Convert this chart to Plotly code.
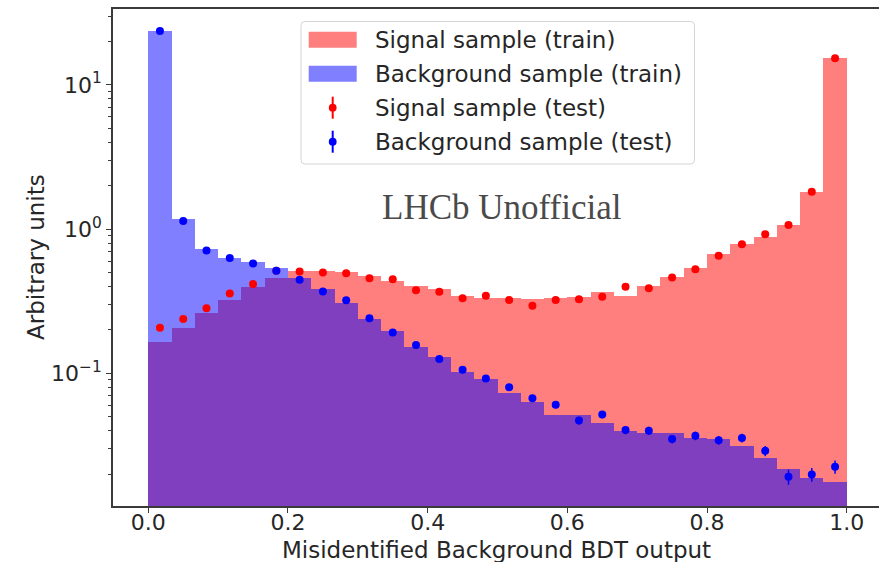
import numpy as np
import plotly.graph_objects as go

# 30 equal bins of the BDT response between 0 and 1
bin_edges = np.linspace(0.0, 1.0, 31)
bin_centers = 0.5 * (bin_edges[:-1] + bin_edges[1:])
bin_width = bin_edges[1] - bin_edges[0]

# Normalised training histograms
signal_train = [0.164, 0.206, 0.264, 0.324, 0.398, 0.455, 0.514, 0.509, 0.501, 0.475,
                0.434, 0.404, 0.384, 0.345, 0.334, 0.331, 0.327, 0.332, 0.336, 0.364,
                0.345, 0.404, 0.467, 0.534, 0.668, 0.787, 0.889, 1.07, 1.81, 15.3]
background_train = [23.5, 1.17, 0.727, 0.636, 0.588, 0.542, 0.455, 0.384, 0.310, 0.240,
                    0.197, 0.153, 0.129, 0.103, 0.0912, 0.0725, 0.0635, 0.0516, 0.0516, 0.0456,
                    0.0399, 0.0385, 0.0385, 0.0359, 0.0350, 0.0314, 0.0257, 0.0217, 0.0187, 0.0176]

# Normalised test-sample points
signal_test = [0.207, 0.238, 0.283, 0.358, 0.416, 0.514, 0.509, 0.501, 0.495, 0.457,
               0.450, 0.377, 0.368, 0.332, 0.345, 0.323, 0.294, 0.323, 0.327, 0.340,
               0.398, 0.390, 0.463, 0.528, 0.653, 0.787, 0.923, 1.07, 1.82, 15.3]
background_test = [23.7, 1.14, 0.71, 0.63, 0.578, 0.514, 0.445, 0.370, 0.322, 0.241,
                   0.192, 0.157, 0.126, 0.106, 0.092, 0.080, 0.0673, 0.0605, 0.0471, 0.0518,
                   0.0404, 0.040, 0.035, 0.0369, 0.0344, 0.0356, 0.029, 0.0192, 0.0199, 0.0225]

# Statistical uncertainties of the test points (absolute)
signal_test_err = [0.006, 0.006, 0.007, 0.008, 0.009, 0.010, 0.010, 0.010, 0.010, 0.009,
                   0.009, 0.008, 0.008, 0.008, 0.008, 0.008, 0.007, 0.008, 0.008, 0.008,
                   0.009, 0.009, 0.010, 0.011, 0.013, 0.014, 0.016, 0.018, 0.024, 0.08]
background_test_err = [0.10, 0.025, 0.016, 0.015, 0.014, 0.013, 0.012, 0.010, 0.009, 0.008,
                       0.007, 0.006, 0.0055, 0.005, 0.0045, 0.004, 0.0036, 0.0033, 0.0029, 0.0030,
                       0.0026, 0.0026, 0.0024, 0.0025, 0.0024, 0.0025, 0.0024, 0.0023, 0.0022, 0.0024]

x_ticks = [0.0, 0.2, 0.4, 0.6, 0.8, 1.0]
x_tick_text = ["0.0", "0.2", "0.4", "0.6", "0.8", "1.0"]
y_ticks = [0.1, 1.0, 10.0]
y_tick_text = ["10<sup>\u22121</sup>", "10<sup>0</sup>", "10<sup>1</sup>"]
y_minor = [m * 10.0 ** e for e in (-2, -1, 0, 1) for m in range(2, 10)]

labels = ["Signal sample (train)", "Background sample (train)",
          "Signal sample (test)", "Background sample (test)"]

RED_FILL = "rgba(255,0,0,0.5)"
BLUE_FILL = "rgba(0,0,255,0.5)"
TEXT = "#262626"

W, H = 879, 562
ML, MR, MT, MB = 113, 0, 9, 56
PW, PH = W - ML - MR, H - MT - MB


def px(x_pixel):
    return (x_pixel - ML) / PW


def py(y_pixel):
    return (MT + PH - y_pixel) / PH


fig = go.Figure()

fig.add_trace(go.Bar(x=bin_centers, y=signal_train, width=bin_width,
                     marker=dict(color=RED_FILL, line=dict(width=0)),
                     name=labels[0], showlegend=False))
fig.add_trace(go.Bar(x=bin_centers, y=background_train, width=bin_width,
                     marker=dict(color=BLUE_FILL, line=dict(width=0)),
                     name=labels[1], showlegend=False))
fig.add_trace(go.Scatter(x=bin_centers, y=signal_test, mode="markers",
                         marker=dict(color="red", size=8),
                         error_y=dict(type="data", array=signal_test_err, color="red",
                                      thickness=1.5, width=0),
                         name=labels[2], showlegend=False))
fig.add_trace(go.Scatter(x=bin_centers, y=background_test, mode="markers",
                         marker=dict(color="blue", size=8),
                         error_y=dict(type="data", array=background_test_err, color="blue",
                                      thickness=1.5, width=0),
                         name=labels[3], showlegend=False))

shapes = []
annotations = []

# Legend frame with rounded corners
x0, x1, y0, y1, r = px(301), px(694.5), py(21.5), py(164), 4
rx, ry = r / PW, r / PH
frame = (f"M{x0+rx},{y0} L{x1-rx},{y0} Q{x1},{y0} {x1},{y0-ry} "
         f"L{x1},{y1+ry} Q{x1},{y1} {x1-rx},{y1} L{x0+rx},{y1} Q{x0},{y1} {x0},{y1+ry} "
         f"L{x0},{y0-ry} Q{x0},{y0} {x0+rx},{y0} Z")
shapes.append(dict(type="path", path=frame, xref="paper", yref="paper",
                   fillcolor="rgba(255,255,255,0.8)", line=dict(color="#d5d5d5", width=1)))

row_y = [39.7, 73.7, 107.7, 141.7]
# Patches for the histogram entries
for yy, col in zip(row_y[:2], [RED_FILL, BLUE_FILL]):
    shapes.append(dict(type="rect", xref="paper", yref="paper",
                       x0=px(308.7), x1=px(356.7), y0=py(yy + 8), y1=py(yy - 8),
                       fillcolor=col, line=dict(width=0)))
# Marker + error bar for the test-sample entries
for yy, col in zip(row_y[2:], ["red", "blue"]):
    shapes.append(dict(type="line", xref="paper", yref="paper",
                       x0=px(332.7), x1=px(332.7), y0=py(yy + 11), y1=py(yy - 11),
                       line=dict(color=col, width=2)))
    shapes.append(dict(type="circle", xref="paper", yref="paper",
                       x0=px(332.7 - 3.9), x1=px(332.7 + 3.9), y0=py(yy + 3.9), y1=py(yy - 3.9),
                       fillcolor=col, line=dict(width=0)))
for yy, txt in zip(row_y, labels):
    annotations.append(dict(x=px(373), y=py(yy), xref="paper", yref="paper", text=txt,
                            xanchor="left", yanchor="middle", showarrow=False,
                            font=dict(family="DejaVu Sans", size=23, color=TEXT)))

annotations.append(dict(x=px(502), y=py(208), xref="paper", yref="paper",
                        text="LHCb Unofficial", showarrow=False,
                        xanchor="center", yanchor="middle",
                        font=dict(family="Liberation Serif", size=35, color="#4a4a4a")))
annotations.append(dict(x=px(496), y=py(550), xref="paper", yref="paper",
                        text="Misidentified Background BDT output", showarrow=False,
                        xanchor="center", yanchor="middle",
                        font=dict(family="DejaVu Sans", size=23, color=TEXT)))
annotations.append(dict(x=px(36), y=py(257), xref="paper", yref="paper",
                        text="Arbitrary units", showarrow=False, textangle=-90,
                        xanchor="center", yanchor="middle",
                        font=dict(family="DejaVu Sans", size=23, color=TEXT)))

x_lo = (ML - 148.3) / 698.4
x_hi = (W - 148.3) / 698.4

fig.update_layout(
    width=W, height=H,
    margin=dict(l=ML, r=MR, t=MT, b=MB, pad=0),
    paper_bgcolor="white", plot_bgcolor="white",
    barmode="overlay", bargap=0,
    showlegend=False,
    shapes=shapes, annotations=annotations,
    font=dict(family="DejaVu Sans", color=TEXT),
    xaxis=dict(range=[x_lo, x_hi], showgrid=False, zeroline=False,
               showline=True, mirror=True, linecolor="#3a3a3a", linewidth=1.6,
               ticks="outside", ticklen=5, tickwidth=1.2, tickcolor="#3a3a3a",
               tickvals=x_ticks, ticktext=x_tick_text, ticklabelstandoff=-9,
               tickfont=dict(family="DejaVu Sans", size=22, color=TEXT)),
    yaxis=dict(type="log", range=[-1.920, 1.527], showgrid=False, zeroline=False,
               showline=True, mirror=False, linecolor="#3a3a3a", linewidth=1.6,
               ticks="outside", ticklen=5, tickwidth=1.2, tickcolor="#3a3a3a",
               tickvals=y_ticks, ticktext=y_tick_text,
               tickfont=dict(family="DejaVu Sans", size=22, color=TEXT),
               minor=dict(tickvals=y_minor, ticks="outside", ticklen=3,
                          tickwidth=1, tickcolor="#3a3a3a")),
)

fig.write_html("out.html")
